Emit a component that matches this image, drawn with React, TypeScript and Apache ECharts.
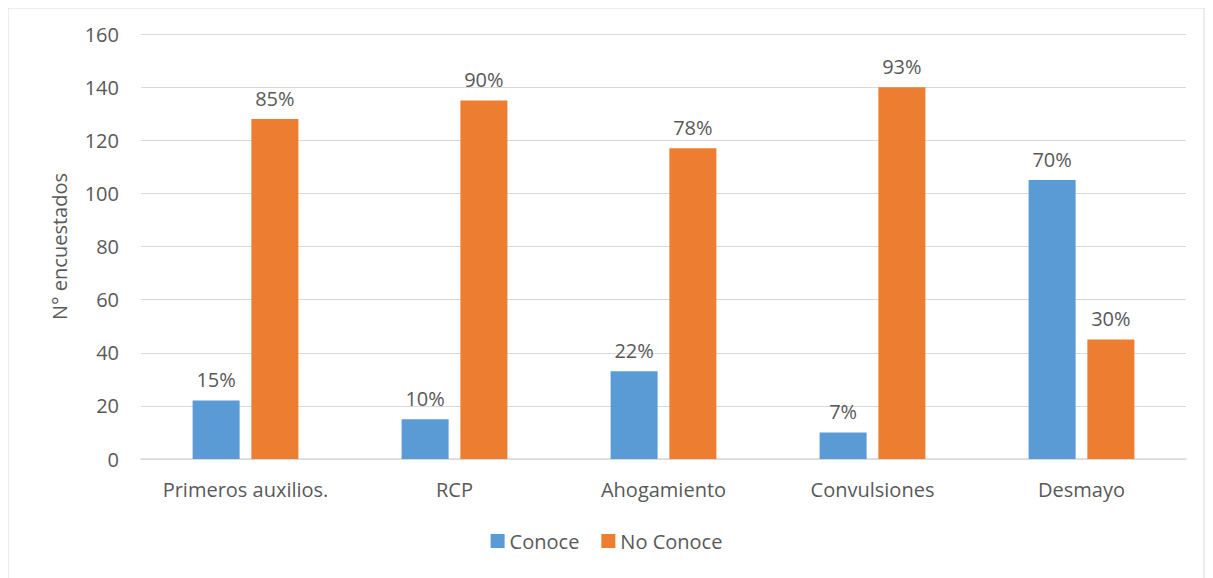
import React, { useEffect, useRef } from "react";
import * as echarts from "echarts";

const categories = ["Primeros auxilios.", "RCP", "Ahogamiento", "Convulsiones", "Desmayo"];
const conoce = [22, 15, 33, 10, 105];
const noConoce = [128, 135, 117, 140, 45];
const conocePct = ["15%", "10%", "22%", "7%", "70%"];
const noConocePct = ["85%", "90%", "78%", "93%", "30%"];

const FONT = "Open Sans";
const TXT = "#595959";
const FS = 20;

export default function App() {
  const ref = useRef<HTMLDivElement>(null);
  useEffect(() => {
    const chart = echarts.init(ref.current!, null, { renderer: "svg" });
    chart.setOption({
      animation: false,
      textStyle: { fontFamily: FONT },
      graphic: [
        {
          type: "rect",
          shape: { x: 0, y: 0, width: 1196, height: 572 },
          style: { fill: "none", stroke: "#d9d9d9", lineWidth: 1 },
        },
      ],
      grid: { left: 133, right: 19, top: 26, bottom: 122 },
      legend: {
        bottom: 25,
        left: "center",
        itemWidth: 14,
        itemHeight: 14,
        itemGap: 22,
        icon: "rect",
        textStyle: { fontSize: FS, color: TXT, fontFamily: FONT },
        data: ["Conoce", "No Conoce"],
      },
      xAxis: {
        type: "category",
        data: categories,
        axisTick: { show: false },
        axisLine: { lineStyle: { color: "#d9d9d9", width: 1.5 } },
        axisLabel: { fontSize: FS, color: TXT, margin: 20, fontFamily: FONT, interval: 0, hideOverlap: false },
      },
      yAxis: {
        type: "value",
        min: 0,
        max: 160,
        interval: 20,
        name: "N° encuestados",
        nameLocation: "middle",
        nameGap: 72,
        nameTextStyle: { fontSize: FS, color: TXT, fontFamily: FONT },
        axisLabel: { fontSize: FS, color: TXT, margin: 22, fontFamily: FONT },
        splitLine: { lineStyle: { color: "#d9d9d9", width: 1 } },
      },
      series: [
        {
          name: "Conoce",
          type: "bar",
          data: conoce,
          barWidth: "22.5%",
          barGap: "25%",
          itemStyle: { color: "#5b9bd5" },
          label: {
            show: true,
            position: "top",
            distance: 11,
            fontSize: FS,
            color: TXT,
            fontFamily: FONT,
            formatter: (p: any) => conocePct[p.dataIndex],
          },
        },
        {
          name: "No Conoce",
          type: "bar",
          data: noConoce,
          barWidth: "22.5%",
          barGap: "25%",
          itemStyle: { color: "#ed7d31" },
          label: {
            show: true,
            position: "top",
            distance: 11,
            fontSize: FS,
            color: TXT,
            fontFamily: FONT,
            formatter: (p: any) => noConocePct[p.dataIndex],
          },
        },
      ],
    });
    return () => chart.dispose();
  }, []);
  return <div ref={ref} style={{ width: 1197, height: 573 }} />;
}
